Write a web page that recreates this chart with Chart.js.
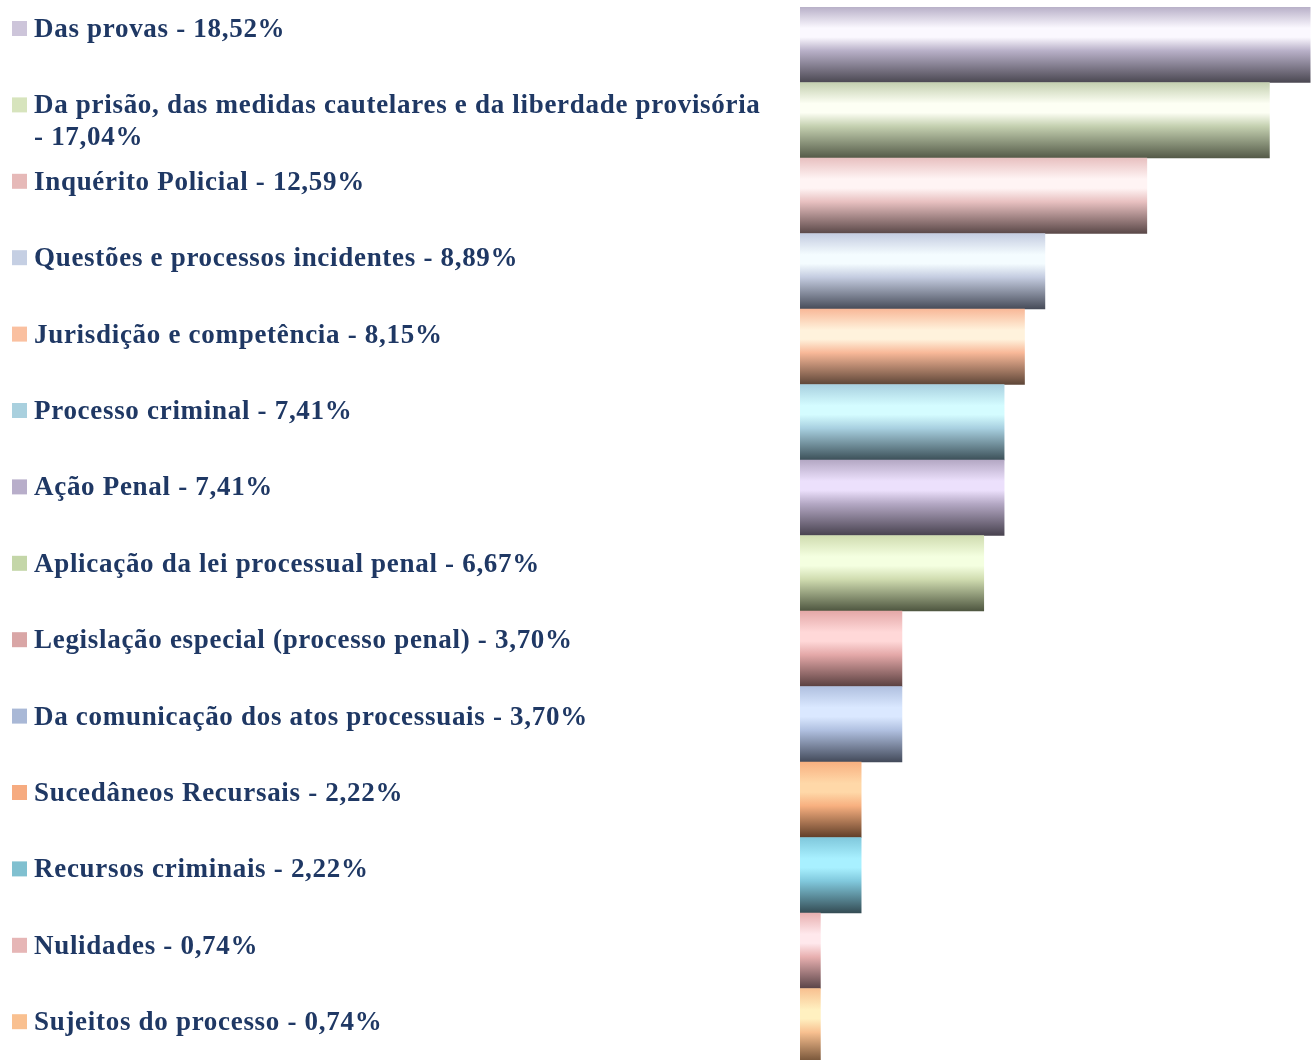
<!DOCTYPE html>
<html>
<head>
<meta charset="utf-8">
<script src="https://cdn.jsdelivr.net/npm/chart.js@4.4.1/dist/chart.umd.min.js"></script>
<style>
  html,body{margin:0;padding:0;background:#fff;overflow:hidden}
  #wrap{width:1311px;height:1064px;position:relative}
</style>
</head>
<body>
<div id="wrap"><canvas id="c" width="1311" height="1064"></canvas></div>
<script>
// data
const labels = [
  ['Das provas - 18,52%'],
  ['Da prisão, das medidas cautelares e da liberdade provisória', '- 17,04%'],
  ['Inquérito Policial - 12,59%'],
  ['Questões e processos incidentes - 8,89%'],
  ['Jurisdição e competência - 8,15%'],
  ['Processo criminal - 7,41%'],
  ['Ação Penal - 7,41%'],
  ['Aplicação da lei processual penal - 6,67%'],
  ['Legislação especial (processo penal) - 3,70%'],
  ['Da comunicação dos atos processuais - 3,70%'],
  ['Sucedâneos Recursais - 2,22%'],
  ['Recursos criminais - 2,22%'],
  ['Nulidades - 0,74%'],
  ['Sujeitos do processo - 0,74%']
];
const values = [18.52, 17.04, 12.59, 8.89, 8.15, 7.41, 7.41, 6.67, 3.70, 3.70, 2.22, 2.22, 0.74, 0.74];

// bar gradient: top / light band / bottom
const topColors   = ['#b8b0c8','#c4d0b0','#e8c0c0','#c4cce0','#f8b898','#a8d0e0','#b4a8c4','#d0dcb0','#e4a8a8','#b0c0e0','#f8b080','#80c8dc','#e8b0b0','#f8c090'];
const lightColors = ['#fbf8ff','#fdfff4','#fff4f4','#f4fcff','#fff2dc','#d4fcff','#ece0fc','#f4ffe0','#ffd8d8','#dae8ff','#ffd8a8','#a8f0ff','#ffe8ec','#fff0c0'];
const darkColors  = ['#4b4852','#545a48','#5a4848','#464b58','#5e4638','#3c5058','#48424f','#4e5640','#5a4040','#434a5a','#603e28','#344c54','#5a4448','#6a4a30'];
const keyColors   = ['#cdc5da','#d7e4bd','#e6b9b8','#c5cfe3','#fac0a0','#a9d0de','#b8aeca','#c4d6a8','#d9a6a6','#a9b8d6','#f6ab80','#80c0d0','#e6b6b6','#f9c090'];

const TEXT = '#1f3864';
const FONT = 'bold 27px "Liberation Serif", "DejaVu Serif", serif';

function barFill(ctx){
  const chart = ctx.chart, i = ctx.dataIndex;
  const y = chart.scales.y;
  if (!y || !chart.chartArea) return topColors[i];
  const half = (chart.chartArea.bottom - chart.chartArea.top) / labels.length / 2;
  const cy = y.getPixelForValue(i);
  const g = chart.ctx.createLinearGradient(0, cy - half, 0, cy + half);
  g.addColorStop(0, topColors[i]);
  g.addColorStop(0.28, lightColors[i]);
  g.addColorStop(0.4, lightColors[i]);
  g.addColorStop(0.58, topColors[i]);
  g.addColorStop(1, darkColors[i]);
  return g;
}

// legend text on the left, its own spacing
const keyList = {
  id:'keyList',
  afterDraw(chart){
    const c = chart.ctx;
    c.save();
    c.font = FONT;
    c.letterSpacing = '0.7px';
    c.textBaseline = 'alphabetic';
    labels.forEach((lines, i) => {
      const base = 37 + i * 76.4;
      c.fillStyle = keyColors[i];
      c.fillRect(12, base - 16, 15, 15);
      c.fillStyle = TEXT;
      lines.forEach((t, k) => c.fillText(t, 34, base + k * 32));
    });
    c.restore();
  }
};

new Chart(document.getElementById('c'), {
  type:'bar',
  data:{
    labels: labels.map(l => l.join(' ')),
    datasets:[{
      data: values,
      backgroundColor: barFill,
      borderWidth: 0,
      categoryPercentage: 1,
      barPercentage: 1
    }]
  },
  options:{
    indexAxis:'y',
    responsive:false,
    animation:false,
    layout:{ padding:{ left:800, top:7, right:0, bottom:0 } },
    plugins:{ legend:{ display:false }, tooltip:{ enabled:false } },
    scales:{
      x:{ display:false, min:0, max:18.55 },
      y:{ display:false }
    }
  },
  plugins:[keyList]
});
</script>
</body>
</html>
